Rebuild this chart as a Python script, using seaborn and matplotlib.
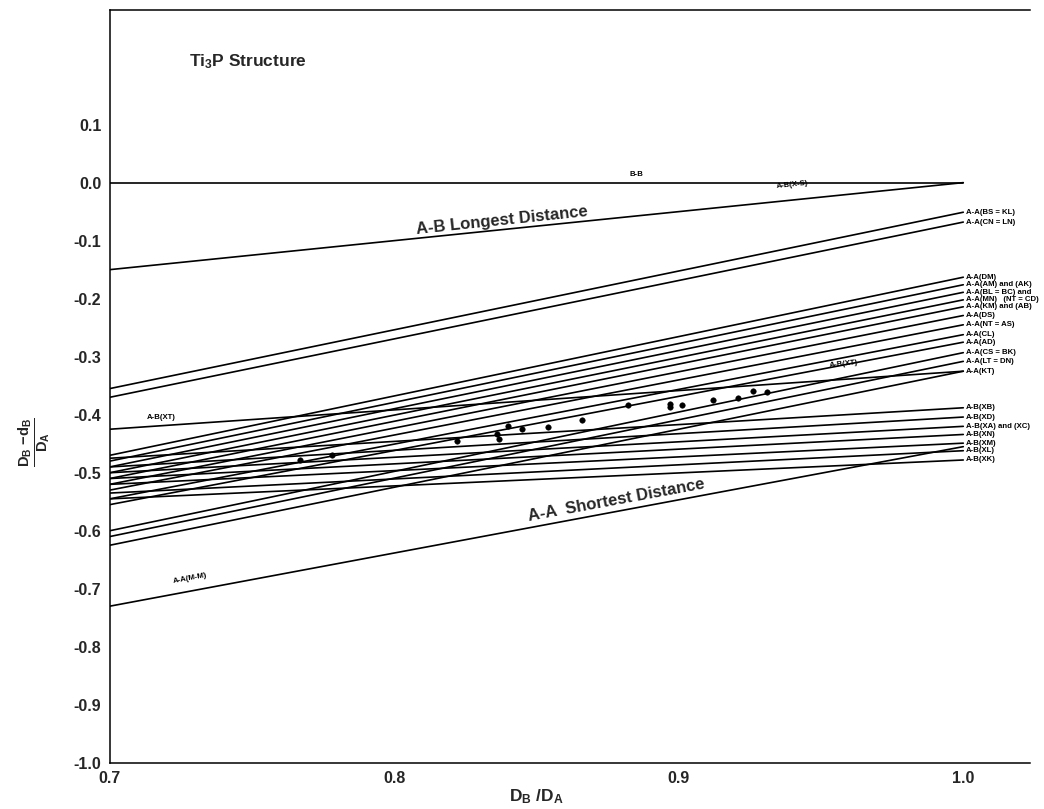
import numpy as np
import pandas as pd
import matplotlib
matplotlib.use("Agg")
import matplotlib.pyplot as plt
import seaborn as sns

# ---------------- data ----------------
line_names = [
    "B-B", "A-B(X-S)",
    "A-A(BS = KL)", "A-A(CN = LN)",
    "A-B(XT)",
    "A-A(DM)", "A-A(AM) and (AK)", "A-A(BL = BC) and", "A-A(MN)   (NT = CD)",
    "A-A(KM) and (AB)", "A-A(DS)", "A-A(NT = AS)", "A-A(CL)", "A-A(AD)",
    "A-A(CS = BK)", "A-A(LT = DN)", "A-A(KT)",
    "A-B(XB)", "A-B(XD)", "A-B(XA) and (XC)", "A-B(XN)", "A-B(XM)", "A-B(XL)", "A-B(XK)",
    "A-A(M-M)",
]
y_at_070 = [
    0.000, -0.150,
    -0.355, -0.370,
    -0.425,
    -0.470, -0.480, -0.490, -0.500,
    -0.510, -0.520, -0.530, -0.545, -0.555,
    -0.600, -0.610, -0.625,
    -0.475, -0.490, -0.500, -0.510, -0.520, -0.535, -0.545,
    -0.730,
]
y_at_100 = [
    0.000, 0.000,
    -0.051, -0.068,
    -0.325,
    -0.163, -0.176, -0.189, -0.202,
    -0.214, -0.229, -0.245, -0.262, -0.275,
    -0.293, -0.308, -0.325,
    -0.388, -0.404, -0.420, -0.434, -0.449, -0.462, -0.478,
    -0.455,
]
x_ends = [0.70, 1.00]

right_labels = [
    "A-A(BS = KL)", "A-A(CN = LN)",
    "A-A(DM)", "A-A(AM) and (AK)", "A-A(BL = BC) and", "A-A(MN)   (NT = CD)",
    "A-A(KM) and (AB)", "A-A(DS)", "A-A(NT = AS)", "A-A(CL)", "A-A(AD)",
    "A-A(CS = BK)", "A-A(LT = DN)", "A-A(KT)",
    "A-B(XB)", "A-B(XD)", "A-B(XA) and (XC)", "A-B(XN)", "A-B(XM)", "A-B(XL)", "A-B(XK)",
]

pts_x = [0.767, 0.778, 0.822, 0.836, 0.837, 0.840, 0.845, 0.854, 0.866, 0.882,
         0.897, 0.897, 0.901, 0.912, 0.921, 0.926, 0.931]
pts_y = [-0.478, -0.469, -0.446, -0.434, -0.441, -0.420, -0.424, -0.422, -0.409, -0.384,
         -0.381, -0.387, -0.384, -0.374, -0.372, -0.359, -0.360]

x_ticks = [0.7, 0.8, 0.9, 1.0]
y_ticks = [0.1, 0.0, -0.1, -0.2, -0.3, -0.4, -0.5, -0.6, -0.7, -0.8, -0.9, -1.0]

rows = []
for name, y0, y1 in zip(line_names, y_at_070, y_at_100):
    rows.append({"name": name, "x": x_ends[0], "y": y0})
    rows.append({"name": name, "x": x_ends[1], "y": y1})
lines_df = pd.DataFrame(rows)
pts_df = pd.DataFrame({"x": pts_x, "y": pts_y})

sns.set_theme(style="white")
plt.rcParams["font.family"] = ["Liberation Sans", "DejaVu Sans"]
plt.rcParams["mathtext.fontset"] = "custom"
plt.rcParams["mathtext.rm"] = "Liberation Sans:bold"
plt.rcParams["mathtext.it"] = "Liberation Sans:bold"
plt.rcParams["mathtext.bf"] = "Liberation Sans:bold"

fig = plt.figure(figsize=(10.44, 8.09), dpi=100)
ax = fig.add_axes([0.105, 0.057, 0.882, 0.931])

sns.lineplot(data=lines_df, x="x", y="y", units="name", estimator=None,
             color="black", lw=1.2, ax=ax, legend=False)
sns.scatterplot(data=pts_df, x="x", y="y", color="black", s=16, ax=ax,
                edgecolor="black", legend=False)

ax.set_xlim(0.7, 1.0236)
ax.set_ylim(-1.0, 0.298)
ax.set_xticks(x_ticks)
ax.set_xticklabels([f"{v:.1f}" for v in x_ticks], fontsize=11.5, fontweight="bold")
ax.set_yticks(y_ticks)
ax.set_yticklabels([f"{v:.1f}" for v in y_ticks], fontsize=11.5, fontweight="bold")
ax.tick_params(axis="both", direction="in", length=5, width=1, color="black", pad=6)
for s in ["left", "bottom", "top"]:
    ax.spines[s].set_color("black")
    ax.spines[s].set_linewidth(1.1)
ax.spines["right"].set_visible(False)

ax.set_xlabel(r"$D_B\ /D_A$", fontsize=12.5)
ax.xaxis.set_label_coords((0.85 - 0.7) / (1.0236 - 0.7), -0.032)
ax.set_ylabel(r"$\frac{D_B\ \mathrm{-}d_B}{D_A}$", fontsize=15)
ax.yaxis.set_label_coords(-0.062, (-0.447 + 1.0) / 1.298)

ax.text(0.728, 0.209, r"Ti$_3$P Structure", fontsize=12.5, fontweight="bold",
        ha="left", va="center")
ax.text(0.838, -0.066, "A-B Longest Distance", fontsize=12, fontweight="bold",
        ha="center", va="center", rotation=6)
ax.text(0.878, -0.548, "A-A  Shortest Distance", fontsize=12, fontweight="bold",
        ha="center", va="center", rotation=10.5)

small = dict(fontsize=5.6, fontweight="bold", color="black")
ax.text(0.885, 0.008, "B-B", ha="center", va="bottom", **small)
ax.text(0.94, -0.012, "A-B(X-S)", ha="center", va="bottom", rotation=6, **small)
ax.text(0.713, -0.405, "A-B(XT)", ha="left", va="center", **small)
ax.text(0.958, -0.322, "A-B(XT)", ha="center", va="bottom", rotation=6, **small)
ax.text(0.722, -0.693, "A-A(M-M)", ha="left", va="bottom", rotation=10.5, **small)

name_to_right = dict(zip(line_names, y_at_100))
for lab in right_labels:
    ax.text(1.001, name_to_right[lab], lab, ha="left", va="center", **small)

fig.savefig("out.png", dpi=100)
